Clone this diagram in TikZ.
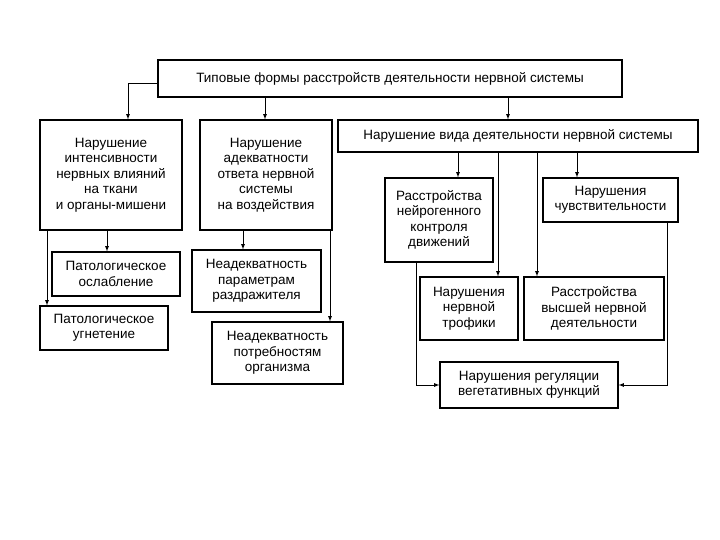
\documentclass[tikz,border=0pt]{standalone}
\usepackage{fontspec}
\setmainfont{Liberation Sans}
\begin{document}
\begin{tikzpicture}[x=1pt,y=-1pt,
 bx/.style={draw,line width=1.2pt,align=center,font=\fontsize{13.5}{15.5}\selectfont,inner sep=0pt},
 ar/.style={-latex,line width=0.8pt}]
\useasboundingbox (0,0) rectangle (720,540);
\newcommand{\bxx}[6]{\node[bx,minimum width={#4-#2},minimum height={#5-#3}] (#1) at ({(#2+#4)/2},{(#3+#5)/2}) {#6};}
\bxx{top}{158}{60}{622}{97}{Типовые формы расстройств деятельности нервной системы}
\bxx{b1}{40}{120}{182}{230}{Нарушение\\интенсивности\\нервных влияний\\на ткани\\и органы-мишени}
\bxx{b2}{200}{120}{332}{230}{Нарушение\\адекватности\\ответа нервной\\системы\\на воздействия}
\bxx{b3}{338}{120}{698}{152}{Нарушение вида деятельности нервной системы}
\bxx{osl}{52}{252}{180}{296}{Патологическое\\ослабление}
\bxx{ugn}{40}{306}{168}{350}{Патологическое\\угнетение}
\bxx{par}{192}{250}{321}{312}{Неадекватность\\параметрам\\раздражителя}
\bxx{pot}{212}{322}{343}{384}{Неадекватность\\потребностям\\организма}
\bxx{ner}{385}{178}{493}{262}{Расстройства\\нейрогенного\\контроля\\движений}
\bxx{chu}{543}{178}{678}{222}{Нарушения\\чувствительности}
\bxx{tro}{420}{277}{518}{340}{Нарушения\\нервной\\трофики}
\bxx{vys}{524}{277}{664}{340}{Расстройства\\высшей нервной\\деятельности}
\bxx{reg}{440}{362}{618}{408}{Нарушения регуляции\\вегетативных функций}
\draw[ar] (top.west|-0,83) -| (b1.north-|128,0);
\draw[ar] (top.south-|265,0) -- (b2.north-|265,0);
\draw[ar] (top.south-|508,0) -- (b3.north-|508,0);
\draw[ar] (b1.south-|107,0) -- (osl.north-|107,0);
\draw[ar] (b1.south-|47,0) -- (ugn.north-|47,0);
\draw[ar] (b2.south-|243,0) -- (par.north-|243,0);
\draw[ar] (b2.south-|330,0) -- (pot.north-|330,0);
\draw[ar] (b3.south-|458,0) -- (ner.north-|458,0);
\draw[ar] (b3.south-|498,0) -- (tro.north-|498,0);
\draw[ar] (b3.south-|537,0) -- (vys.north-|537,0);
\draw[ar] (b3.south-|577,0) -- (chu.north-|577,0);
\draw[ar] (ner.south-|416,0) |- (reg.west|-0,385);
\draw[ar] (chu.south-|667,0) |- (reg.east|-0,385);
\end{tikzpicture}
\end{document}
